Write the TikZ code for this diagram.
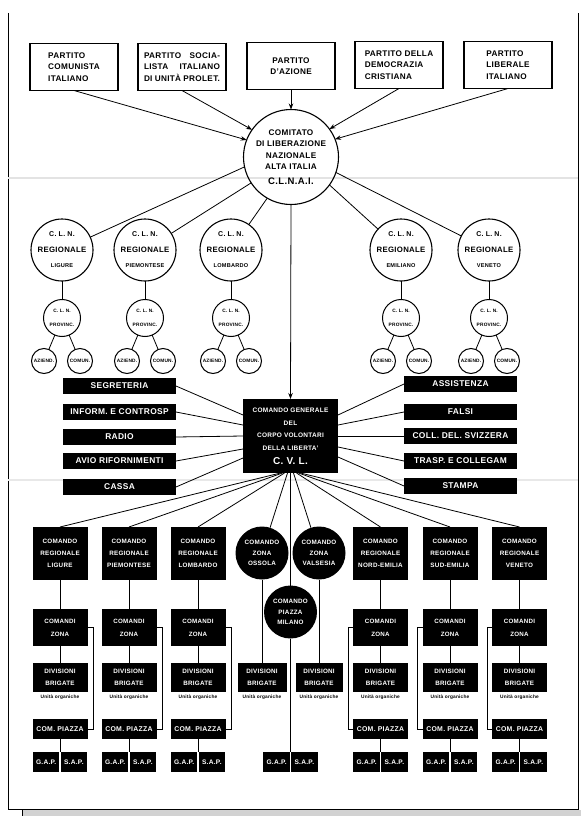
\documentclass[tikz,border=0pt]{standalone}
\usepackage{fontspec}
\setmainfont[LetterSpace=4]{Liberation Sans}
\usetikzlibrary{arrows.meta,calc}
\newcommand\fsz[2]{\fontsize{#1}{#2}\selectfont\bfseries}
\begin{document}
\begin{tikzpicture}[x=1pt,y=-1pt,
  every node/.style={inner sep=0pt, outer sep=0pt},
  party/.style={draw, line width=1.3pt, minimum width=88pt, minimum height=47pt, align=left, font=\fsz{8.2}{11.5}},
  ring/.style={circle, draw, line width=1.1pt, align=center},
  bigring/.style={ring, minimum size=95pt, font=\fsz{8.2}{11.5}},
  regring/.style={ring, minimum size=62pt, font=\fsz{7}{15.5}},
  provring/.style={ring, line width=1pt, minimum size=37pt, font=\fsz{4.8}{14}},
  smallring/.style={ring, line width=1pt, minimum size=25pt, font=\fsz{4.8}{6}},
  bar/.style={fill=black, text=white, minimum width=113pt, minimum height=16pt, font=\fsz{8.4}{10}},
  blk/.style={fill=black, text=white, align=center},
  creg/.style={blk, minimum width=55pt, minimum height=53pt, font=\fsz{6.3}{12}},
  czone/.style={blk, minimum width=55pt, minimum height=37pt, font=\fsz{6.2}{13}},
  cdiv/.style={blk, minimum width=55pt, minimum height=29pt, font=\fsz{6.3}{12}},
  cpz/.style={blk, minimum width=55pt, minimum height=20pt, font=\fsz{6.9}{8}},
  gs/.style={blk, minimum width=26.5pt, minimum height=20pt, font=\fsz{6.6}{8}},
  bcirc/.style={circle, fill=black, text=white, align=center, minimum size=53pt, font=\fsz{6.3}{10.5}},
  unit/.style={font=\fsz{4.8}{5}},
  ln/.style={line width=0.8pt},
  arr/.style={ln, -{Stealth[length=6pt,width=4.5pt]}}
]
\useasboundingbox (0,0) rectangle (581,816);
% paper frame and folds
\fill[gray!35] (22,810) rectangle (581,816);
\draw[line width=0.8pt] (8,13) -- (8,809) -- (578,809) -- (578,13);
\draw[line width=0.6pt] (22,809) -- (22,816);
\draw[gray!22, line width=1.2pt] (8,178) -- (578,178);
\draw[gray!18, line width=1.2pt] (8,480) -- (578,480);

% parties
\node[party] (p1) at (74,67) {PARTITO\\COMUNISTA\\ITALIANO};
\node[party] (p2) at (182,67) {\makebox[76pt][s]{PARTITO SOCIA-}\\\makebox[76pt][s]{LISTA ITALIANO}\\\makebox[76pt][s]{DI UNITÀ PROLET.}};
\node[party, align=center] (p3) at (291,66) {PARTITO\\D'AZIONE};
\node[party] (p4) at (399,65) {PARTITO DELLA\\DEMOCRAZIA\\CRISTIANA};
\node[party] (p5) at (508,65) {PARTITO\\LIBERALE\\ITALIANO};

% CLNAI
\node[bigring] (clnai) at (291,157) {COMITATO\\DI LIBERAZIONE\\NAZIONALE\\ALTA ITALIA\\[3pt]{\fsz{9.5}{12}C.L.N.A.I.}};
\draw[arr] (p1.south) -- (clnai.159);
\draw[arr] (p2.south) -- (clnai.145);
\draw[arr] (p3.south) -- (clnai.north);
\draw[arr] (p4.south) -- (clnai.36);
\draw[arr] (p5.south) -- (clnai.22);

% regional CLN
\node[regring] (rl1) at (62,250) {C. L. N.\\{\fsz{7.8}{15.5}REGIONALE}\\{\fsz{5.6}{15.5}LIGURE}};
\node[regring] (rl2) at (145,250) {C. L. N.\\{\fsz{7.8}{15.5}REGIONALE}\\{\fsz{5.6}{15.5}PIEMONTESE}};
\node[regring] (rl3) at (231,250) {C. L. N.\\{\fsz{7.8}{15.5}REGIONALE}\\{\fsz{5.6}{15.5}LOMBARDO}};
\node[regring] (rl4) at (401,250) {C. L. N.\\{\fsz{7.8}{15.5}REGIONALE}\\{\fsz{5.6}{15.5}EMILIANO}};
\node[regring] (rl5) at (489,250) {C. L. N.\\{\fsz{7.8}{15.5}REGIONALE}\\{\fsz{5.6}{15.5}VENETO}};
\draw[ln] (clnai.192) -- (rl1);
\draw[ln] (clnai.213) -- (rl2);
\draw[ln] (clnai.240) -- (rl3);
\draw[ln] (clnai.-36) -- (rl4);
\draw[ln] (clnai.-19) -- (rl5);

% provincial CLN and below
\foreach \i/\x in {1/62,2/145,3/231,4/401,5/489}{
  \node[provring] (pv\i) at (\x,318) {C. L. N.\\PROVINC.};
  \node[smallring] (az\i) at (\x-18,361) {AZIEND.};
  \node[smallring] (cm\i) at (\x+18,361) {COMUN.};
  \draw[ln] (rl\i) -- (pv\i);
  \draw[ln] (pv\i) -- (az\i);
  \draw[ln] (pv\i) -- (cm\i);
}

% CVL
\node[blk, minimum width=95pt, minimum height=74pt, font=\fsz{6.5}{12.7}] (cvl) at (290.5,436)
  {COMANDO GENERALE\\DEL\\CORPO VOLONTARI\\DELLA LIBERTA'\\[1pt]{\fsz{10}{12}C. V. L.}};
\draw[arr] (clnai.south) -- (cvl.north);

% staff bars
\node[bar] (sg) at (119.5,386) {SEGRETERIA};
\node[bar] (ic) at (119.5,412) {INFORM. E CONTROSP};
\node[bar] (rd) at (119.5,437) {RADIO};
\node[bar] (av) at (119.5,461) {AVIO RIFORNIMENTI};
\node[bar] (cs) at (119.5,487) {CASSA};
\node[bar] (as) at (460.5,384) {ASSISTENZA};
\node[bar] (fa) at (460.5,412) {FALSI};
\node[bar] (co) at (460.5,436) {COLL. DEL. SVIZZERA};
\node[bar] (tr) at (460.5,461) {TRASP. E COLLEGAM};
\node[bar] (st) at (460.5,486) {STAMPA};
\draw[ln] (sg.east) -- ($(cvl.west)+(0,-21)$);
\draw[ln] (ic.east) -- ($(cvl.west)+(0,-11)$);
\draw[ln] (rd.east) -- (cvl.west);
\draw[ln] (av.east) -- ($(cvl.west)+(0,13)$);
\draw[ln] (cs.east) -- ($(cvl.west)+(0,22)$);
\draw[ln] (as.west) -- ($(cvl.east)+(0,-21)$);
\draw[ln] (fa.west) -- ($(cvl.east)+(0,-11)$);
\draw[ln] (co.west) -- (cvl.east);
\draw[ln] (tr.west) -- ($(cvl.east)+(0,11)$);
\draw[ln] (st.west) -- ($(cvl.east)+(0,21)$);

% regional commands (left)
\foreach \i/\x/\nm in {1/60/LIGURE,2/129/PIEMONTESE,3/198/LOMBARDO}{
  \node[creg] (cr\i) at (\x,553.5) {COMANDO\\REGIONALE\\\nm};
  \node[czone] (cz\i) at (\x,627.5) {COMANDI\\ZONA};
  \node[cdiv] (dv\i) at (\x,677.5) {DIVISIONI\\BRIGATE};
  \node[unit] (un\i) at (\x,697.5) {Unità organiche};
  \node[cpz] (cp\i) at (\x,729) {COM. PIAZZA};
  \coordinate (jn\i) at (\x,752);
  \node[gs, anchor=east] (ga\i) at (\x-0.6,762) {G.A.P.};
  \node[gs, anchor=west] (sa\i) at (\x+0.6,762) {S.A.P.};
  \draw[ln] (cr\i) -- (cz\i);
  \draw[ln] (cz\i) -- (dv\i);
  \draw[ln] (cz\i.east) -- ++(5.5,0) |- (cp\i.east);
  \draw[ln] (cp\i.south) -- (jn\i);
}
% regional commands (right)
\foreach \i/\x/\nm in {4/380.5/NORD-EMILIA,5/450/SUD-EMILIA,6/519.5/VENETO}{
  \node[creg] (cr\i) at (\x,553.5) {COMANDO\\REGIONALE\\\nm};
  \node[czone] (cz\i) at (\x,627.5) {COMANDI\\ZONA};
  \node[cdiv] (dv\i) at (\x,677.5) {DIVISIONI\\BRIGATE};
  \node[unit] (un\i) at (\x,697.5) {Unità organiche};
  \node[cpz] (cp\i) at (\x,729) {COM. PIAZZA};
  \coordinate (jn\i) at (\x,752);
  \node[gs, anchor=east] (ga\i) at (\x-0.6,762) {G.A.P.};
  \node[gs, anchor=west] (sa\i) at (\x+0.6,762) {S.A.P.};
  \draw[ln] (cr\i) -- (cz\i);
  \draw[ln] (cz\i) -- (dv\i);
  \draw[ln] (cz\i.west) -- ++(-5,0) |- (cp\i.west);
  \draw[ln] (cp\i.south) -- (jn\i);
}

% zone commands in the centre
\node[bcirc] (oss) at (262,553) {COMANDO\\ZONA\\OSSOLA};
\node[bcirc] (val) at (319,553) {COMANDO\\ZONA\\VALSESIA};
\node[bcirc] (mil) at (290.5,612) {COMANDO\\PIAZZA\\MILANO};
\node[cdiv, minimum width=49pt] (dv7) at (262,677.5) {DIVISIONI\\BRIGATE};
\node[cdiv, minimum width=47pt] (dv8) at (319,677.5) {DIVISIONI\\BRIGATE};
\node[unit] (un7) at (262,697.5) {Unità organiche};
\node[unit] (un8) at (319,697.5) {Unità organiche};
\coordinate (jn7) at (290.5,752);
\node[gs, anchor=east] (ga7) at (289.9,762) {G.A.P.};
\node[gs, anchor=west] (sa7) at (291.1,762) {S.A.P.};
\draw[ln] (oss) -- (dv7);
\draw[ln] (val) -- (dv8);
\draw[ln] (mil) -- (jn7);

% fan from CVL
\draw[ln] ($(cvl.south)+(-10,0)$) -- (cr1.north);
\draw[ln] ($(cvl.south)+(-8,0)$) -- (cr2.north);
\draw[ln] ($(cvl.south)+(-6,0)$) -- (cr3.north);
\draw[ln] ($(cvl.south)+(-3,0)$) -- (oss);
\draw[ln] (cvl.south) -- (mil);
\draw[ln] ($(cvl.south)+(3,0)$) -- (val);
\draw[ln] ($(cvl.south)+(6,0)$) -- (cr4.north);
\draw[ln] ($(cvl.south)+(8,0)$) -- (cr5.north);
\draw[ln] ($(cvl.south)+(10,0)$) -- (cr6.north);
\end{tikzpicture}
\end{document}
